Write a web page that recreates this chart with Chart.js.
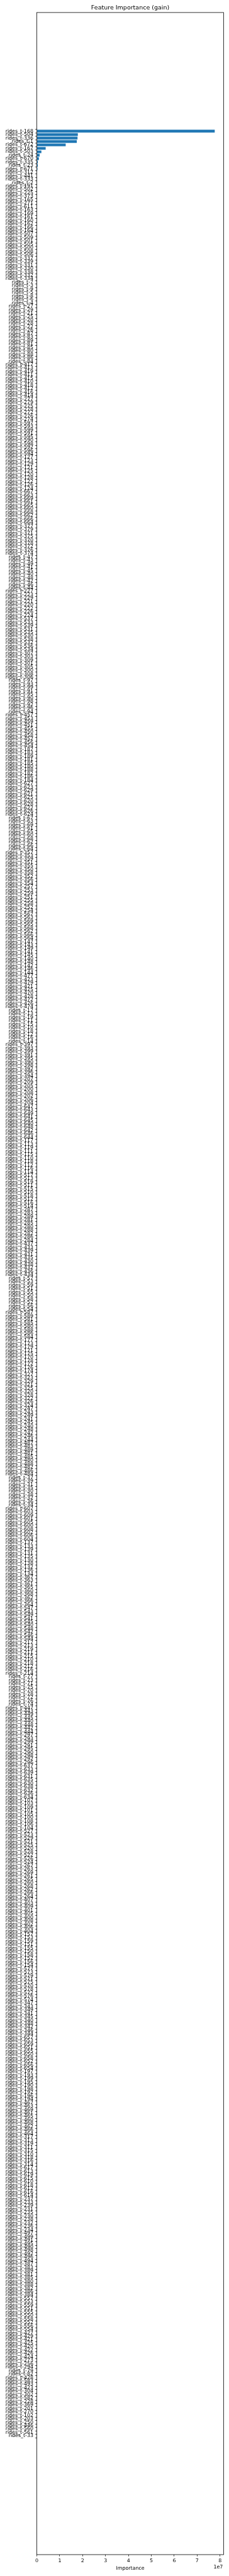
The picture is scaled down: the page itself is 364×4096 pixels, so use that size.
<!DOCTYPE html>
<html>
<head>
<meta charset="utf-8">
<script src="https://cdn.jsdelivr.net/npm/chart.js@4.4.0/dist/chart.umd.min.js"></script>
<style>
  html, body { margin: 0; padding: 0; background: #fff; }
  canvas { display: block; }
</style>
</head>
<body>
<canvas id="fiChart" width="364" height="4096" style="width:364px;height:4096px"></canvas>
<script>
// Feature importance (gain) - rows listed top to bottom, as lag numbers of rides_t-N

// lags that can be read at the top of the chart
const topLags = [168, 504, 336, 1, 672, 167, 503, 24, 670, 335, 23, 671,
    312, 441, 333, 2, 191, 502, 225, 373, 165, 271, 611];

// middle rows (labels are too dense to read, estimated)
const midLags = [
    163, 169, 161, 160, 162, 166, 164,
    507, 509, 501, 505, 500, 508, 506,
    337, 339, 331, 330, 338, 332, 334,
    7, 3, 9, 5, 8, 6, 4,
    27, 29, 21, 25, 20, 28, 22, 26,
    87, 83, 89, 81, 85, 80, 88, 86, 84,
    417, 413, 419, 411, 415, 410, 418, 412, 416, 414,
    277, 279, 275, 278, 272, 276, 274,
    597, 593, 599, 591, 595, 590, 598, 592, 596, 594,
    127, 123, 129, 121, 125, 120, 128, 122, 126, 124,
    667, 663, 669, 661, 665, 660, 668, 662, 666, 664,
    377, 379, 371, 375, 370, 378, 372, 376, 374,
    47, 43, 49, 41, 45, 40, 48, 42, 46, 44,
    227, 223, 229, 221, 220, 222, 226, 224,
    537, 533, 539, 531, 535, 530, 538, 532, 536, 534,
    307, 303, 309, 301, 305, 300, 308, 306,
    97, 93, 99, 91, 95, 90, 98, 92, 96, 94,
    457, 453, 459, 451, 455, 450, 458, 452, 456, 454,
    187, 183, 189, 181, 185, 180, 188, 182, 186, 184,
    627, 623, 629, 621, 625, 620, 628, 622, 626, 624,
    67, 63, 69, 61, 65, 60, 68, 62, 66, 64,
    357, 353, 359, 351, 355, 350, 358, 352, 356, 354,
    257, 253, 259, 251, 255, 258, 252, 254,
    567, 563, 569, 565, 568, 562, 566, 564,
    147, 143, 149, 141, 145, 140, 148, 142, 146, 144,
    477, 473, 479, 471, 475, 470, 478, 472, 476, 474,
    17, 13, 19, 11, 15, 10, 18, 12, 16, 14,
    397, 393, 399, 391, 395, 390, 398, 392, 396, 394,
    207, 209, 205, 200, 208, 202, 206, 204,
    647, 643, 649, 641, 645, 640, 648, 642, 646, 644,
    117, 113, 119, 111, 115, 110, 118, 112, 116, 114,
    517, 513, 519, 511, 515, 510, 518, 512, 516, 514,
    287, 283, 289, 281, 285, 280, 288, 282, 286, 284,
    437, 433, 439, 431, 435, 430, 438, 432, 436, 434,
    57, 53, 59, 51, 55, 50, 58, 52, 56, 54,
    587, 589, 581, 585, 580, 588, 586, 584,
    177, 173, 179, 171, 175, 170, 178, 172, 176, 174,
    327, 323, 329, 321, 325, 320, 328, 322, 326, 324,
    247, 243, 249, 241, 245, 240, 248, 242, 246, 244,
    487, 483, 489, 481, 485, 480, 488, 482, 486, 484,
    37, 39, 31, 35, 30, 38, 32, 36, 34,
    607, 603, 609, 601, 605, 600, 608, 602, 606, 604,
    137, 133, 139, 131, 135, 130, 138, 132, 136, 134,
    367, 363, 361, 365, 360, 368, 362, 366, 364,
    547, 543, 549, 541, 545, 540, 548, 542, 546, 544,
    217, 213, 219, 211, 215, 210, 218, 212, 216, 214,
    77, 73, 71, 75, 70, 78, 72, 76, 74,
    447, 443, 449, 445, 440, 448, 442, 444,
    297, 293, 299, 291, 295, 290, 298, 292, 296,
    637, 633, 639, 631, 635, 630, 638, 632, 636, 634,
    107, 103, 109, 101, 105, 100, 108, 106, 104,
    527, 523, 529, 521, 525, 520, 528, 522, 526, 524,
    267, 263, 269, 261, 265, 260, 268, 262, 266, 264,
    407, 403, 409, 401, 405, 400, 408, 402, 406, 404,
    157, 153, 159, 151, 155, 150, 158, 152, 156, 154,
    577, 573, 579, 571, 575, 570, 578, 572, 576, 574,
    347, 343, 349, 341, 345, 340, 348, 342, 346, 344,
    657, 653, 659, 651, 655, 650, 658, 652, 656, 654,
    197, 193, 199, 195, 190, 198, 192, 196, 194,
    467, 463, 469, 461, 465, 460, 468, 462, 466, 464,
    317, 313, 319, 311, 315, 310, 318, 316, 314,
    617, 613, 619, 615, 610, 618, 612, 616, 614,
    237, 233, 239, 231, 235, 230, 238, 232, 236, 234,
    497, 499, 491, 495, 490, 498, 492, 496, 494,
    387, 383, 389, 381, 385, 380, 388, 382, 386, 384,
    557, 553, 559, 551, 555, 550, 558, 552, 556, 554,
    427, 429, 421, 425, 420, 422, 426, 424
];

// lags that can be read at the bottom of the chart
const bottomLags = [273, 256, 294, 79, 82, 428, 583, 493, 423, 304, 302, 582,
    228, 369, 201, 270, 102, 203, 250, 446, 560, 561, 33];

// gain of the visible bars (rows 1-12)
const topGain = [77700000, 17900000, 17760000, 17450000, 12600000, 3850000,
    1980000, 1200000, 890000, 420000, 400000, 260000];

// gain of the remaining rows, all under one pixel wide (estimated)
const tailGain = [
    96000, 94200, 93100, 91800, 90400, 89600, 88100, 87300, 86200, 85100, 84300, 83500, 82200, 81600, 80700, 79900, 79100, 78200, 77400, 76800,
    76100, 75300, 74600, 73800, 73000, 72400, 71700, 70900, 70200, 69600, 68800, 68100, 67500, 66900, 66200, 65600, 64900, 64300, 63700, 63000,
    62400, 61900, 61200, 60600, 60100, 59500, 58800, 58300, 57700, 57200, 56600, 56000, 55500, 55000, 54400, 53900, 53400, 52800, 52300, 51800,
    51300, 50800, 50300, 49800, 49300, 48800, 48300, 47800, 47300, 46900, 46400, 45900, 45500, 45000, 44600, 44100, 43700, 43200, 42800, 42400,
    42000, 41600, 41100, 40700, 40300, 39900, 39500, 39100, 38700, 38300, 37900, 37500, 37200, 36800, 36400, 36000, 35700, 35300, 35000, 34600,
    34300, 33900, 33600, 33200, 32900, 32500, 32200, 31900, 31600, 31200, 30900, 30600, 30300, 30000, 29700, 29400, 29100, 28800, 28500, 28200,
    27900, 27600, 27300, 27100, 26800, 26500, 26200, 26000, 25700, 25400, 25200, 24900, 24700, 24400, 24200, 23900, 23700, 23400, 23200, 23000,
    22700, 22500, 22300, 22000, 21800, 21600, 21400, 21100, 20900, 20700, 20500, 20300, 20100, 19900, 19700, 19500, 19300, 19100, 18900, 18700,
    18500, 18300, 18100, 17900, 17700, 17600, 17400, 17200, 17000, 16800, 16700, 16500, 16300, 16200, 16000, 15800, 15700, 15500, 15400, 15200,
    15000, 14900, 14700, 14600, 14400, 14300, 14100, 14000, 13800, 13700, 13500, 13400, 13300, 13100, 13000, 12800, 12700, 12600, 12400, 12300,
    12200, 12000, 11900, 11800, 11700, 11500, 11400, 11300, 11200, 11100, 10900, 10800, 10700, 10600, 10500, 10400, 10300, 10200, 10000, 9900,
    9800, 9700, 9600, 9500, 9400, 9300, 9200, 9100, 9000, 8900, 8800, 8700, 8600, 8500, 8450, 8350, 8250, 8150, 8050, 7950,
    7870, 7790, 7700, 7620, 7540, 7460, 7380, 7300, 7220, 7140, 7070, 6990, 6920, 6850, 6770, 6700, 6630, 6560, 6490, 6420,
    6350, 6290, 6220, 6150, 6090, 6020, 5960, 5900, 5840, 5770, 5710, 5650, 5590, 5530, 5470, 5420, 5360, 5300, 5250, 5190,
    5140, 5080, 5030, 4980, 4920, 4870, 4820, 4770, 4720, 4670, 4620, 4570, 4520, 4480, 4430, 4380, 4340, 4290, 4250, 4200,
    4160, 4110, 4070, 4030, 3990, 3940, 3900, 3860, 3820, 3780, 3740, 3700, 3660, 3630, 3590, 3550, 3510, 3480, 3440, 3400,
    3370, 3330, 3300, 3260, 3230, 3200, 3160, 3130, 3100, 3070, 3030, 3000, 2970, 2940, 2910, 2880, 2850, 2820, 2790, 2760,
    2730, 2710, 2680, 2650, 2620, 2600, 2570, 2540, 2520, 2490, 2470, 2440, 2420, 2390, 2370, 2340, 2320, 2300, 2270, 2250,
    2230, 2200, 2180, 2160, 2140, 2120, 2090, 2070, 2050, 2030, 2010, 1990, 1970, 1950, 1930, 1910, 1890, 1870, 1850, 1830,
    1810, 1790, 1780, 1760, 1740, 1720, 1700, 1690, 1670, 1650, 1640, 1620, 1600, 1590, 1570, 1560, 1540, 1520, 1510, 1490,
    1480, 1460, 1450, 1430, 1420, 1410, 1390, 1380, 1360, 1350, 1340, 1320, 1310, 1300, 1280, 1270, 1260, 1250, 1230, 1220,
    1210, 1200, 1190, 1170, 1160, 1150, 1140, 1130, 1120, 1110, 1100, 1080, 1070, 1060, 1050, 1040, 1030, 1020, 1010, 1000,
    990, 980, 970, 960, 950, 940, 930, 920, 910, 900, 890, 880, 870, 860, 850, 840, 830, 820, 810, 800,
    790, 780, 770, 760, 750, 740, 730, 720, 710, 700, 690, 680, 670, 660, 650, 640, 630, 620, 610, 600,
    595, 590, 580, 570, 560, 550, 540, 530, 520, 510, 500, 495, 490, 480, 470, 460, 450, 440, 430, 420,
    415, 410, 400, 395, 390, 380, 375, 370, 360, 355, 350, 340, 335, 330, 320, 315, 310, 300, 295, 290,
    285, 280, 275, 270, 265, 260, 255, 250, 245, 240, 235, 230, 225, 220, 215, 210, 205, 200, 195, 190,
    186, 182, 178, 174, 170, 166, 162, 158, 154, 150, 146, 142, 138, 134, 130, 126, 122, 118, 114, 110,
    107, 104, 101, 98, 95, 92, 89, 86, 83, 80, 77, 74, 71, 68, 65, 62, 59, 56, 53, 50,
    48, 46, 44, 42, 40, 38, 36, 34, 32, 30, 28, 26, 24, 22, 20, 19, 18, 17, 16, 15,
    14, 13, 12, 11, 10, 9.5, 9, 8.5, 8, 7.5, 7, 6.5, 6, 5.5, 5, 4.5, 4, 3.5, 3, 2.5,
    2.4, 2.3, 2.2, 2.1, 2, 1.9, 1.8, 1.7, 1.6, 1.5, 1.4, 1.3, 1.2, 1.1, 1, 0.9, 0.8, 0.7, 0.6, 0.5
];

const xTicks = [0, 1e7, 2e7, 3e7, 4e7, 5e7, 6e7, 7e7, 8e7];

const features = topLags.concat(midLags, bottomLags).map(n => 'rides_t-' + n);
const gain = topGain.concat(tailGain);

// layout, scaled from the 640x7200 original
const S = 364 / 640;
const FONT = '"DejaVu Sans", sans-serif';
const plotLeft = 103 * S, plotRight = 625 * S, plotTop = 35 * S, plotBottom = 7142 * S;
const xMax = Math.max(...gain) * 1.05;
const yPad = 0.4 + 0.05 * (features.length - 1 + 0.8);

const frame = {
    id: 'frame',
    afterDraw(chart) {
        const { ctx, chartArea: a } = chart;
        ctx.save();
        ctx.strokeStyle = '#000';
        ctx.lineWidth = 0.8;
        ctx.strokeRect(a.left, a.top, a.right - a.left, a.bottom - a.top);
        ctx.fillStyle = '#000';
        ctx.font = (16.7 * S).toFixed(2) + 'px ' + FONT;
        ctx.textAlign = 'center';
        ctx.textBaseline = 'alphabetic';
        ctx.fillText('Feature Importance (gain)', (a.left + a.right) / 2, 27 * S);
        ctx.font = (13.9 * S).toFixed(2) + 'px ' + FONT;
        ctx.textAlign = 'right';
        ctx.textBaseline = 'middle';
        ctx.fillText('1e7', 623 * S, 7177 * S);
        ctx.restore();
    }
};

const ctx = document.getElementById('fiChart');
new Chart(ctx, {
    type: 'bar',
    data: {
        datasets: [{
            label: 'gain',
            data: gain.map((v, i) => ({ x: v, y: i })),
            backgroundColor: '#1f77b4',
            borderWidth: 0,
            categoryPercentage: 1,
            barPercentage: 0.8
        }]
    },
    options: {
        indexAxis: 'y',
        responsive: false,
        animation: false,
        events: [],
        layout: {
            padding: { top: plotTop, right: 364 - plotRight, bottom: 0, left: 0 }
        },
        plugins: {
            legend: { display: false },
            tooltip: { enabled: false },
            title: { display: false }
        },
        scales: {
            x: {
                type: 'linear',
                min: 0,
                max: xMax,
                afterFit: (s) => { s.height = 4096 - plotBottom; },
                afterBuildTicks: (s) => { s.ticks = xTicks.map(v => ({ value: v })); },
                border: { display: false },
                grid: { drawOnChartArea: false, drawTicks: true, tickLength: 4.9 * S, color: '#000', lineWidth: 0.7 },
                ticks: {
                    color: '#000',
                    font: { family: FONT, size: 13.9 * S },
                    padding: 2,
                    maxRotation: 0,
                    callback: (v) => String(Math.round(v / 1e7))
                },
                title: {
                    display: true,
                    text: 'Importance',
                    color: '#000',
                    font: { family: FONT, size: 13.9 * S },
                    padding: { top: 0, bottom: 7.8 }
                }
            },
            y: {
                type: 'linear',
                reverse: true,
                min: -yPad,
                max: features.length - 1 + yPad,
                afterFit: (s) => { s.width = plotLeft; },
                afterBuildTicks: (s) => { s.ticks = features.map((f, i) => ({ value: i })); },
                border: { display: false },
                grid: { drawOnChartArea: false, drawTicks: true, tickLength: 4.9 * S, color: '#000', lineWidth: 0.7 },
                ticks: {
                    autoSkip: false,
                    color: '#000',
                    font: { family: FONT, size: 13.9 * S },
                    padding: 4.9 * S,
                    callback: (v) => features[v]
                }
            }
        }
    },
    plugins: [frame]
});
</script>
</body>
</html>
